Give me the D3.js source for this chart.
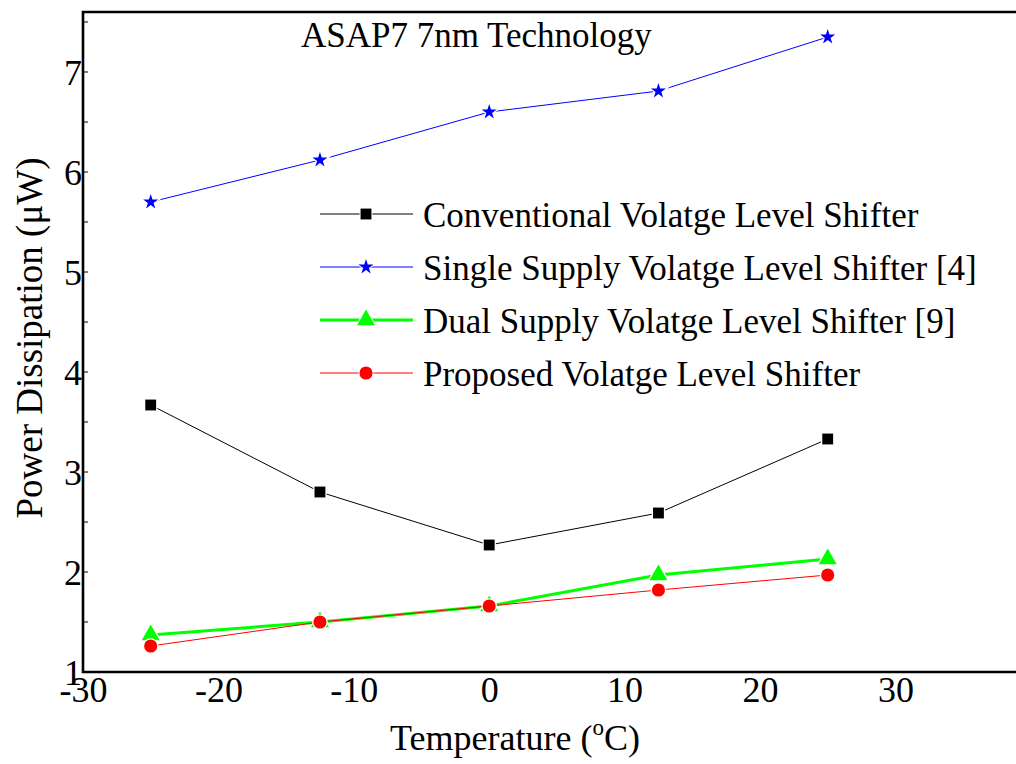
<!DOCTYPE html>
<html>
<head>
<meta charset="utf-8">
<script src="https://cdn.jsdelivr.net/npm/d3@7"></script>
<style>
  html, body { margin: 0; padding: 0; background: #fff; }
  svg { display: block; }
  text { font-family: "Liberation Serif", "Times New Roman", serif; fill: #000; }
</style>
</head>
<body>
<svg id="chart" width="1016" height="764"></svg>
<script>
const temps = [-25, -12.5, 0, 12.5, 25];
const conventional = [3.67, 2.80, 2.27, 2.59, 3.33];
const singleSupply = [5.70, 6.12, 6.60, 6.81, 7.35];
const dualSupply = [1.37, 1.50, 1.66, 1.97, 2.13];
const proposed = [1.26, 1.50, 1.66, 1.82, 1.97];
const seriesNames = [
  "Conventional Volatge Level Shifter",
  "Single Supply Volatge Level Shifter [4]",
  "Dual Supply Volatge Level Shifter [9]",
  "Proposed Volatge Level Shifter"
];
const xTicks = [-30, -20, -10, 0, 10, 20, 30];
const yTicks = [1, 2, 3, 4, 5, 6, 7];
const yMinorTicks = [1.5, 2.5, 3.5, 4.5, 5.5, 6.5, 7.5];
const titleText = "ASAP7 7nm Technology";

const svg = d3.select("#chart");
const L = 83, T = 12, B = 672;
const x = d3.scaleLinear().domain([-30, 40]).range([L, L + 70 * 13.54]);
const y = d3.scaleLinear().domain([1, 7.6]).range([B, T]);

const styles = [
  { data: conventional, color: "#000000", width: 1, symbol: d3.symbolSquare, size: 118 },
  { data: singleSupply, color: "#0000ff", width: 1, symbol: d3.symbolStar, size: 70 },
  { data: dualSupply, color: "#00ff00", width: 3, symbol: d3.symbolTriangle, size: 140 },
  { data: proposed, color: "#ff0000", width: 1, symbol: d3.symbolCircle, size: 135 }
];

// inward ticks on y
svg.append("g").selectAll("line").data(yTicks.concat(yMinorTicks)).join("line")
  .attr("x1", L).attr("x2", L + 5)
  .attr("y1", d => y(d)).attr("y2", d => y(d))
  .attr("stroke", "#000").attr("stroke-width", 1);

// series
const line = d3.line().x((d, i) => x(temps[i])).y(d => y(d));
styles.forEach(s => {
  svg.append("path").datum(s.data)
    .attr("d", line)
    .attr("fill", "none").attr("stroke", s.color).attr("stroke-width", s.width);
  svg.append("g").selectAll("path").data(s.data).join("path")
    .attr("transform", (d, i) => `translate(${x(temps[i])},${y(d)})`)
    .attr("d", d3.symbol().type(s.symbol).size(s.size)())
    .attr("fill", s.color)
    .attr("stroke", "#fff").attr("stroke-width", 2.5)
    .attr("paint-order", "stroke");
});

// frame
svg.append("path")
  .attr("d", `M${1030},${T}H${L}V${B}H${1030}`)
  .attr("fill", "none").attr("stroke", "#000").attr("stroke-width", 2.6);

// axes labels
const xAxis = d3.axisBottom(x).tickValues(xTicks).tickSize(0).tickPadding(0).tickFormat(d => String(d));
const gx = svg.append("g").attr("transform", `translate(0,${B})`).call(xAxis);
gx.select(".domain").remove();
gx.selectAll("text").attr("font-size", 36).attr("dy", null).attr("y", 30)
  .style("font-family", '"Liberation Serif", serif').attr("fill", "#000");

const yAxis = d3.axisLeft(y).tickValues(yTicks).tickSize(0).tickPadding(0).tickFormat(d => String(d));
const gy = svg.append("g").attr("transform", `translate(${L - 1},0)`).call(yAxis);
gy.select(".domain").remove();
gy.selectAll("text").attr("font-size", 36).attr("dy", "0.34em").attr("x", 0)
  .style("font-family", '"Liberation Serif", serif').attr("fill", "#000");

// title
svg.append("text").attr("x", 301).attr("y", 47).attr("font-size", 35).text(titleText);

// axis titles
const xt = svg.append("text").attr("x", 515).attr("y", 750).attr("text-anchor", "middle").attr("font-size", 36);
xt.append("tspan").text("Temperature (");
xt.append("tspan").attr("font-size", 23).attr("dy", -15).text("o");
xt.append("tspan").attr("dy", 15).text("C)");

svg.append("text").attr("transform", "translate(42,338) rotate(-90)")
  .attr("text-anchor", "middle").attr("font-size", 37).text("Power Dissipation (\u03BCW)");

// legend
const legY = [214, 267, 320, 373];
const leg = svg.append("g");
styles.forEach((s, i) => {
  const g = leg.append("g").attr("transform", `translate(0,${legY[i]})`);
  g.append("line").attr("x1", 320).attr("x2", 413).attr("y1", 0).attr("y2", 0)
    .attr("stroke", s.color).attr("stroke-width", s.width);
  g.append("path").attr("transform", "translate(366,0)")
    .attr("d", d3.symbol().type(s.symbol).size(s.size)())
    .attr("fill", s.color).attr("stroke", "#fff").attr("stroke-width", 2).attr("paint-order", "stroke");
  g.append("text").attr("x", 423).attr("y", 13).attr("font-size", 35).text(seriesNames[i]);
});
</script>
</body>
</html>
